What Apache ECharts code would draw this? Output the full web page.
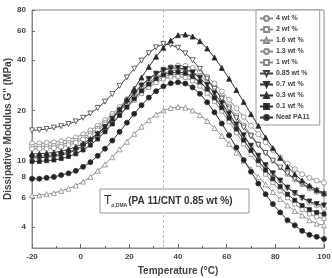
<!DOCTYPE html>
<html>
<head>
<meta charset="utf-8">
<script src="https://cdn.jsdelivr.net/npm/echarts@6/dist/echarts.min.js"></script>
<style>
  html, body { margin: 0; padding: 0; background: #fff; }
  #chart { width: 332px; height: 278px; }
</style>
</head>
<body>
<div id="chart"></div>
<script>
// temperature points (°C)
const temps = [-20,-17,-14,-11,-8,-5,-2,1,4,7,10,13,16,19,22,25,28,31,34,37,40,43,46,49,52,55,58,61,64,67,70,73,76,79,82,85,88,91,94,97,100];

// G'' values (MPa)
const g4wt   = [12.7,12.7,12.8,12.9,13.1,13.4,13.8,14.4,15.2,16.2,17.5,19.1,21,23.3,25.8,28.4,31,33.3,35.2,36.5,37.2,37,36,34.2,31.8,29,26,23.2,20.6,18.3,16.2,14.4,12.9,11.6,10.5,9.6,8.9,8.3,7.9,7.6,7.4];
const g2wt   = [12.2,12.2,12.2,12.3,12.5,12.8,13.2,13.8,14.6,15.6,16.9,18.5,20.4,22.5,24.8,27.2,29.5,31.6,33.3,34.5,35.1,35,34,32.2,29.8,27,24,21.2,18.6,16.3,14.3,12.6,11.2,10,9.1,8.3,7.7,7.2,6.8,6.5,6.3];
const g16wt  = [6.2,6.2,6.3,6.4,6.6,6.8,7.1,7.5,8,8.7,9.5,10.5,11.7,13,14.5,16,17.5,18.9,20,20.7,21,20.8,20,18.8,17.3,15.7,14.1,12.6,11.2,10,8.9,8,7.2,6.5,5.9,5.4,5,4.7,4.4,4.2,4.1];
const g13wt  = [11.8,11.8,11.8,11.9,12.1,12.4,12.8,13.4,14.2,15.2,16.5,18,19.8,21.8,24,26.2,28.3,30.2,31.7,32.7,33,32.7,31.5,29.5,27,24.2,21.3,18.6,16.1,14,12.2,10.7,9.4,8.4,7.6,6.9,6.4,6,5.6,5.4,5.2];
const g1wt   = [10.6,10.6,10.7,10.8,11,11.3,11.7,12.3,13.1,14.1,15.4,17,18.8,20.8,23,25.3,27.5,29.4,30.9,31.8,32,31.5,30.1,28,25.4,22.6,19.8,17.1,14.7,12.6,10.9,9.5,8.3,7.4,6.6,6,5.5,5.1,4.8,4.6,4.5];
const g085wt = [15.2,15.3,15.5,15.8,16.1,16.6,17.2,18.1,19.2,20.7,22.6,25.1,28.1,31.6,35.6,39.8,44.1,47.8,50,49.5,47.5,44,40,35.5,31,27,23.5,20.5,18,15.8,14,12.4,11.1,10,9.1,8.4,7.8,7.3,6.9,6.6,6.3];
const g07wt  = [10.4,10.4,10.5,10.6,10.8,11.1,11.6,12.3,13.2,14.4,15.9,17.8,20,22.6,25.3,28.2,30.9,33.2,34.9,35.8,36,35.4,33.8,31.4,28.5,25.3,22.1,19.1,16.5,14.2,12.3,10.7,9.4,8.4,7.6,6.9,6.4,6,5.7,5.5,5.4];
const g03wt  = [11,11,11.1,11.2,11.4,11.7,12.1,12.7,13.5,14.6,16,17.9,20.3,23.3,27,31.5,36.5,42,47.5,52.5,56.5,57,55.5,52,47,41.5,36,31,26.5,22.5,19,16.2,13.8,11.9,10.4,9.2,8.3,7.6,7.1,6.7,6.4];
const g01wt  = [9.9,9.9,10,10.1,10.3,10.6,11,11.6,12.4,13.5,14.9,16.6,18.7,21,23.5,26.2,28.8,31,32.7,33.7,34,33.5,32,29.7,26.9,23.8,20.8,18,15.5,13.3,11.5,10,8.8,7.8,7,6.3,5.8,5.4,5.1,4.9,4.8];
const gNeat  = [7.8,7.8,7.9,8,8.2,8.4,8.7,9.2,9.8,10.7,11.8,13.2,14.9,16.9,19.1,21.5,23.9,26.1,27.9,29.1,29.5,29,27.5,25.2,22.4,19.5,16.7,14.2,12,10.1,8.6,7.3,6.3,5.5,4.9,4.4,4.1,3.8,3.6,3.5,3.4];

const yTicks = [4,6,8,10,20,40,60,80];
const tgDma = 34; // T alpha,DMA of PA 11/CNT 0.85 wt %

const FONT = '"Liberation Sans", Arial, sans-serif';

// name, data, symbol, rotate, fill, stroke (line + border)
const defs = [
    ['4 wt %',    g4wt,   'circle',   0,   '#fff', '#8a8a8a'],
    ['2 wt %',    g2wt,   'rect',     0,   '#fff', '#8a8a8a'],
    ['1.6 wt %',  g16wt,  'triangle', 0,   '#fff', '#8a8a8a'],
    ['1.3 wt %',  g13wt,  'circle',   0,   '#fff', '#8a8a8a'],
    ['1 wt %',    g1wt,   'rect',     0,   '#fff', '#8a8a8a'],
    ['0.85 wt %', g085wt, 'triangle', 180, '#fff', '#444'],
    ['0.7 wt %',  g07wt,  'triangle', 180, '#222', '#333'],
    ['0.3 wt %',  g03wt,  'triangle', 0,   '#222', '#333'],
    ['0.1 wt %',  g01wt,  'rect',     0,   '#222', '#333'],
    ['Neat PA11', gNeat,  'circle',   0,   '#222', '#333']
];

const series = defs.map(function (d, i) {
    const s = {
        name: d[0],
        type: 'line',
        data: temps.map(function (t, k) { return [t, d[1][k]]; }),
        symbol: d[2],
        symbolRotate: d[3],
        symbolSize: d[2] === 'rect' ? 4 : 5,
        itemStyle: { color: d[4], borderColor: d[5], borderWidth: 0.8 },
        lineStyle: { color: d[5], width: 1 },
        z: 2 + i
    };
    if (i === 0) {
        s.markLine = {
            silent: true,
            symbol: ['none', 'none'],
            label: { show: false },
            lineStyle: { type: [3, 2], color: '#bbb', width: 1 },
            data: [{ xAxis: tgDma }]
        };
    }
    return s;
});

const chart = echarts.init(document.getElementById('chart'));
chart.setOption({
    animation: false,
    backgroundColor: '#fff',
    grid: {
        left: 32, right: 8, top: 10, bottom: 30,
        outerBoundsMode: 'none',
        containLabel: false,
        show: true, borderColor: '#888', borderWidth: 1
    },
    legend: {
        orient: 'vertical',
        left: 256,
        top: 10,
        padding: [5, 10, 4, 3],
        itemWidth: 13,
        itemHeight: 6,
        itemGap: 4,
        borderColor: '#999',
        borderWidth: 1,
        backgroundColor: '#fff',
        textStyle: { fontSize: 7, fontWeight: 'bold', color: '#444', fontFamily: FONT, padding: [0, 0, 0, -2] },
        data: defs.map(function (d) { return d[0]; })
    },
    xAxis: {
        type: 'value',
        min: -20,
        max: 100,
        interval: 20,
        name: 'Temperature (°C)',
        nameLocation: 'middle',
        nameGap: 18,
        nameMoveOverlap: false,
        nameTextStyle: { fontSize: 10, fontWeight: 'bold', color: '#444', fontFamily: FONT },
        axisLine: { onZero: false, lineStyle: { color: '#888' } },
        axisTick: { inside: true, length: 4, lineStyle: { color: '#666' } },
        minorTick: { show: true, splitNumber: 2, length: 2, lineStyle: { color: '#666' } },
        axisLabel: { fontSize: 8, fontWeight: 'bold', color: '#444', fontFamily: FONT, margin: 5 },
        splitLine: { show: false }
    },
    yAxis: {
        type: 'log',
        logBase: 10,
        min: 3,
        max: 80,
        name: "Dissipative Modulus G'' (MPa)",
        nameLocation: 'middle',
        nameGap: 19,
        nameMoveOverlap: false,
        nameTextStyle: { fontSize: 10, fontWeight: 'bold', color: '#444', fontFamily: FONT },
        axisLine: { show: true, onZero: false, lineStyle: { color: '#888' } },
        axisTick: { show: true, inside: true, length: 3, customValues: yTicks, lineStyle: { color: '#666' } },
        axisLabel: { fontSize: 8, fontWeight: 'bold', color: '#444', fontFamily: FONT, margin: 6, customValues: yTicks },
        splitLine: { show: false },
        minorTick: { show: false }
    },
    graphic: [
        {
            type: 'rect',
            shape: { x: 100, y: 189, width: 149, height: 24 },
            style: { fill: '#fff', stroke: '#999', lineWidth: 1 },
            z: 100
        },
        {
            type: 'text',
            x: 104,
            y: 201,
            z: 101,
            style: {
                text: '{t|T}{s|α,DMA}{m|(PA 11/CNT 0.85 wt %)}',
                verticalAlign: 'middle',
                rich: {
                    t: { fontSize: 12, fontFamily: FONT, fill: '#333', verticalAlign: 'middle' },
                    s: { fontSize: 5, fontWeight: 'bold', fontFamily: FONT, fill: '#444', padding: [9, 1, 0, 0] },
                    m: { fontSize: 10, fontWeight: 'bold', fontFamily: FONT, fill: '#333' }
                }
            }
        }
    ],
    series: series
});
</script>
</body>
</html>
